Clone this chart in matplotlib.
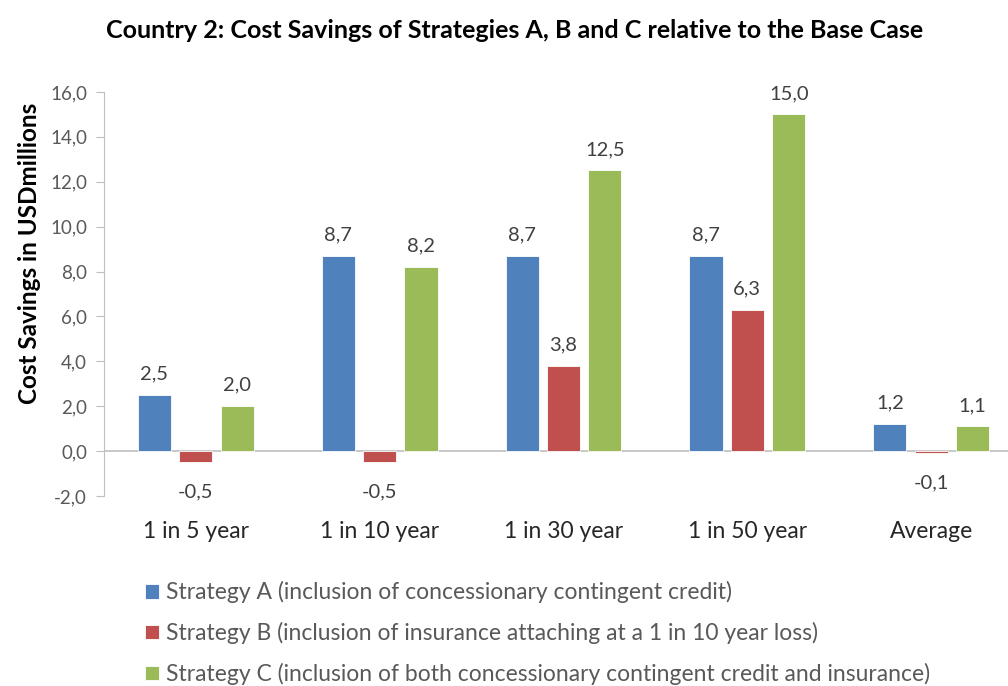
import matplotlib.pyplot as plt
import numpy as np

categories = ['1 in 5 year', '1 in 10 year', '1 in 30 year', '1 in 50 year', 'Average']
strat_a = [2.5, 8.7, 8.7, 8.7, 1.2]
strat_b = [-0.5, -0.5, 3.8, 6.3, -0.1]
strat_c = [2.0, 8.2, 12.5, 15.0, 1.1]
labels = ['Strategy A (inclusion of concessionary contingent credit)',
          'Strategy B (inclusion of insurance attaching at a 1 in 10 year loss)',
          'Strategy C (inclusion of both concessionary contingent credit and insurance)']
colors = ['#4F81BD', '#C0504D', '#9BBB59']
yticks = np.arange(-2, 17, 2)

plt.rcParams['font.family'] = ['Lato', 'DejaVu Sans']

fig = plt.figure(figsize=(10.08, 6.86), dpi=100)
ax = fig.add_axes([0.103, 0.277, 0.912, 0.589])

x = np.arange(len(categories))
w = 0.18
off = 0.225
bars = []
for i, (vals, col, lab) in enumerate(zip([strat_a, strat_b, strat_c], colors, labels)):
    b = ax.bar(x + (i - 1) * off, vals, w, color=col, edgecolor='white', linewidth=0.6, label=lab, zorder=3)
    bars.append(b)
    for xi, v in zip(x + (i - 1) * off, vals):
        txt = '{:.1f}'.format(v).replace('.', ',')
        dy = 15 if v >= 0 else -21
        ax.annotate(txt, (xi, v), xytext=(0, dy), textcoords='offset points',
                    ha='center', va='center', fontsize=14.5, color='#404040')

ax.axhline(0, color='#BFBFBF', linewidth=1.2, zorder=2)
ax.set_xlim(-0.5, 4.5)
ax.set_ylim(-2, 16)
ax.set_yticks(yticks)
ax.set_yticklabels(['{:.1f}'.format(t).replace('.', ',') for t in yticks], fontsize=13.5, color='#595959')
ax.set_xticks(x)
ax.set_xticklabels(categories, fontsize=16.5, color='#262626')
ax.tick_params(axis='x', length=0, pad=18)
ax.tick_params(axis='y', length=6, color='#BFBFBF', pad=6)
for s in ['top', 'right', 'bottom']:
    ax.spines[s].set_visible(False)
ax.spines['left'].set_color('#BFBFBF')
ax.set_ylabel('Cost Savings in USDmillions', fontsize=17.5, fontweight='bold', labelpad=6)
ax.yaxis.set_label_coords(-0.068, 0.6)

fig.text(0.51, 0.955, 'Country 2: Cost Savings of Strategies A, B and C relative to the Base Case',
         ha='center', va='center', fontsize=18, fontweight='bold')

fig.legend(handles=bars, labels=labels, loc='upper left', bbox_to_anchor=(0.135, 0.166),
           frameon=False, fontsize=16.5, handlelength=0.6, handleheight=0.6, handletextpad=0.3,
           labelspacing=0.82, labelcolor='#595959', borderaxespad=0)

plt.savefig('out.png', dpi=100)
